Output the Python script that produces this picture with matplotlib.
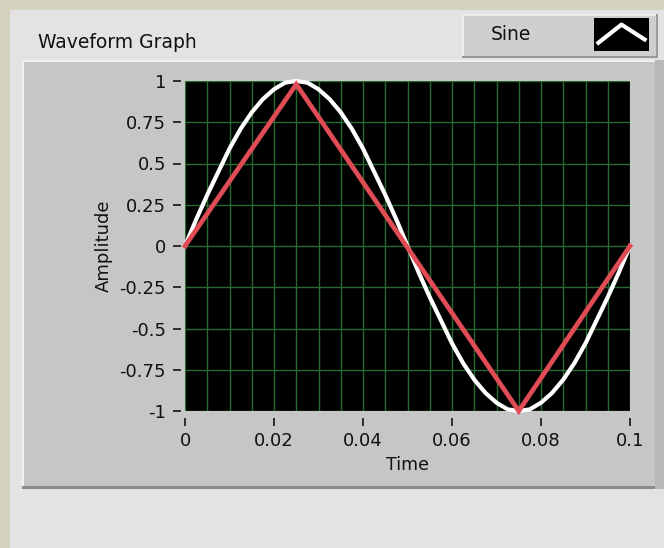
import matplotlib
matplotlib.use("Agg")
import matplotlib.pyplot as plt
from matplotlib.patches import Rectangle

# waveform data
t_sine = [0.0, 0.0025, 0.005, 0.0075, 0.01, 0.0125, 0.015, 0.0175, 0.02, 0.0225,
          0.025, 0.0275, 0.03, 0.0325, 0.035, 0.0375, 0.04, 0.0425, 0.045, 0.0475,
          0.05, 0.0525, 0.055, 0.0575, 0.06, 0.0625, 0.065, 0.0675, 0.07, 0.0725,
          0.075, 0.0775, 0.08, 0.0825, 0.085, 0.0875, 0.09, 0.0925, 0.095, 0.0975, 0.1]
sine_amp = [0.0, 0.16, 0.31, 0.45, 0.59, 0.71, 0.81, 0.89, 0.95, 0.99,
            1.0, 0.99, 0.95, 0.89, 0.81, 0.71, 0.59, 0.45, 0.31, 0.16,
            0.0, -0.16, -0.31, -0.45, -0.59, -0.71, -0.81, -0.89, -0.95, -0.99,
            -1.0, -0.99, -0.95, -0.89, -0.81, -0.71, -0.59, -0.45, -0.31, -0.16, 0.0]
t_tri = [0.0, 0.025, 0.075, 0.1]
tri_amp = [0.0, 0.98, -1.0, 0.0]

x_ticks = [0, 0.02, 0.04, 0.06, 0.08, 0.1]
x_labels = ["0", "0.02", "0.04", "0.06", "0.08", "0.1"]
y_ticks = [-1, -0.75, -0.5, -0.25, 0, 0.25, 0.5, 0.75, 1]
y_labels = ["-1", "-0.75", "-0.5", "-0.25", "0", "0.25", "0.5", "0.75", "1"]

W, H = 664, 548
PX = 0.72  # points per pixel at dpi 100
plt.rcParams['font.family'] = ['DejaVu Sans']


def box(x0, y0, x1, y1):
    # pixel box (top-left origin) -> figure fraction rect
    return [x0 / W, 1 - y1 / H, (x1 - x0) / W, (y1 - y0) / H]


def rect(x0, y0, x1, y1, color):
    r = box(x0, y0, x1, y1)
    fig.patches.append(Rectangle((r[0], r[1]), r[2], r[3], transform=fig.transFigure,
                                 facecolor=color, edgecolor='none', zorder=-5))


fig = plt.figure(figsize=(W / 100, H / 100), dpi=100)
fig.patch.set_facecolor('#e3e3e3')

# window background
rect(0, 0, W, 10, '#d5d3bd')
rect(0, 0, 10, H, '#d5d3bd')

# graph frame with bevel
rect(22, 60, 658, 489, '#8c8c8c')
rect(22, 60, 655, 486, '#f0f0f0')
rect(24, 62, 655, 486, '#c6c6c6')
rect(655, 60, 664, 489, '#b8b8b8')

# legend box
rect(462, 14, 658, 58, '#9a9a9a')
rect(462, 14, 656, 56, '#ededed')
rect(464, 16, 656, 56, '#cfcfcf')
fig.text(491 / W, 1 - 34 / H, "Sine", fontsize=13.5, va='center', ha='left', color='#111111')

fig.text(38 / W, 1 - 43 / H, "Waveform Graph", fontsize=13.5, va='center', ha='left', color='#111111')

# plot area
ax = fig.add_axes(box(185, 81, 630, 411))
ax.set_facecolor('black')
ax.plot(t_sine, sine_amp, color='white', lw=3.0, clip_on=False, zorder=3)
ax.plot(t_tri, tri_amp, color='#e04c55', lw=3.4, clip_on=False, zorder=4,
        solid_joinstyle='miter')
ax.set_xlim(0, 0.1)
ax.set_ylim(-1, 1)
ax.set_xticks(x_ticks)
ax.set_xticklabels(x_labels)
ax.set_xticks([i * 0.005 for i in range(21)], minor=True)
ax.set_yticks(y_ticks)
ax.set_yticklabels(y_labels)
ax.grid(which='both', axis='x', color='#27692f', lw=1)
ax.grid(which='major', axis='y', color='#27692f', lw=1)
ax.set_axisbelow(True)
ax.tick_params(which='minor', length=0)
ax.tick_params(which='major', direction='out', width=1.3, color='#222222',
               labelsize=13, labelcolor='#111111')
ax.tick_params(axis='y', length=8 * PX, pad=7 * PX)
ax.tick_params(axis='x', length=8 * PX, pad=6 * PX)
ax.spines['left'].set_position(('outward', 4 * PX))
ax.spines['bottom'].set_position(('outward', 7 * PX))
for s in ax.spines.values():
    s.set_visible(False)
ax.set_xlabel("Time", fontsize=12.5, color='#111111', labelpad=4)
ax.set_ylabel("Amplitude", fontsize=13, color='#111111', labelpad=5)

# legend swatch
sw = fig.add_axes(box(594, 18, 649, 51))
sw.set_facecolor('black')
sw.plot([0.08, 0.5, 0.92], [0.25, 0.8, 0.35], color='white', lw=3)
sw.set_xlim(0, 1)
sw.set_ylim(0, 1)
sw.set_xticks([])
sw.set_yticks([])
for s in sw.spines.values():
    s.set_visible(False)

fig.savefig('out.png', dpi=100)
